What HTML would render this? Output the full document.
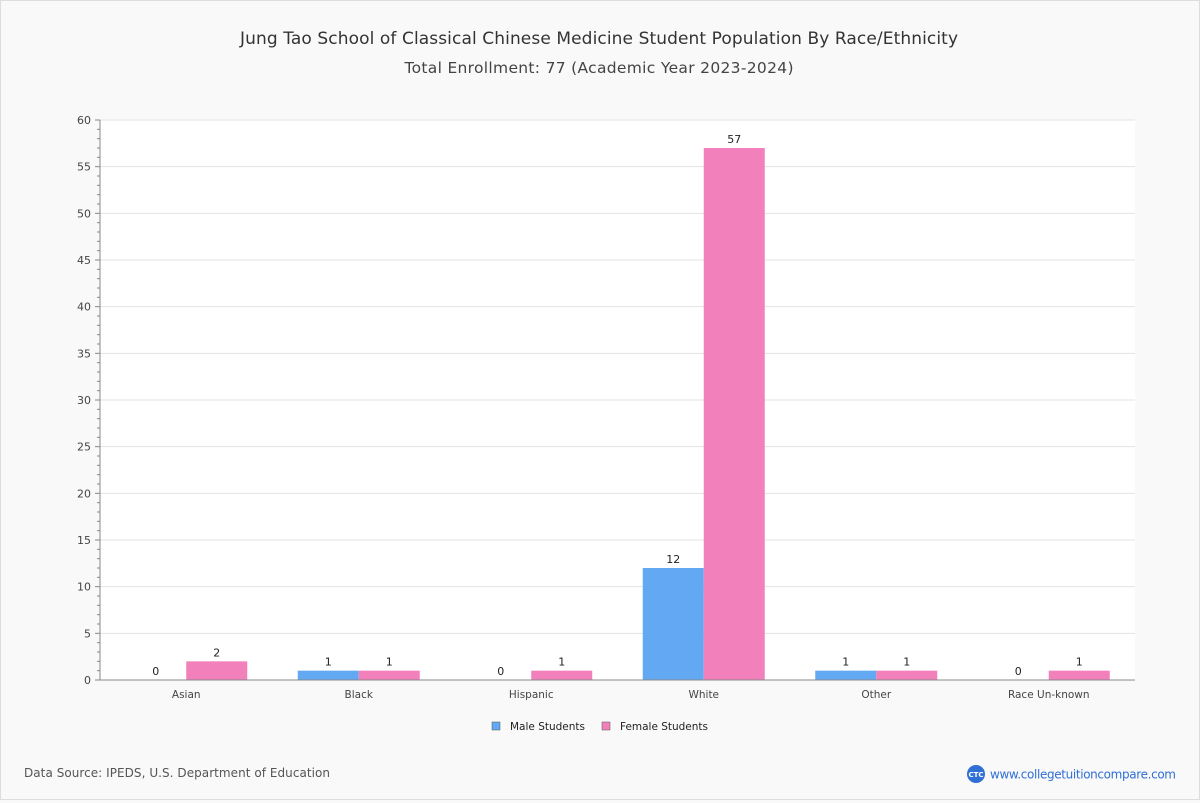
<!DOCTYPE html>
<html><head><meta charset="utf-8"><style>
body{margin:0;background:#f9f9f9;font-family:"DejaVu Sans","Liberation Sans",sans-serif;}
#wrap{position:relative;width:1198px;height:798px;border:1px solid #ddd;background:#f9f9f9;}
</style></head><body>
<div id="wrap">
<svg id="chart" width="1198" height="798" xmlns="http://www.w3.org/2000/svg">
<text x="598" y="43" text-anchor="middle" font-size="17" fill="#333" textLength="718">Jung Tao School of Classical Chinese Medicine Student Population By Race/Ethnicity</text>
<text x="598" y="72" text-anchor="middle" font-size="15.5" fill="#444" textLength="389">Total Enrollment: 77 (Academic Year 2023-2024)</text>
<rect x="99" y="119" width="1035" height="560" fill="#fff"/>
<g id="grid"></g><g id="bars"></g><g id="axes"></g>
<g>
<rect x="491" y="721" width="8" height="8" fill="#63a8f2" stroke="#555" stroke-width="0.5"/>
<text x="509" y="729" font-size="10.5" fill="#222" textLength="75">Male Students</text>
<rect x="601" y="721" width="8" height="8" fill="#f281bb" stroke="#555" stroke-width="0.5"/>
<text x="619" y="729" font-size="10.5" fill="#222" textLength="88">Female Students</text>
</g>
<text x="23" y="776" font-size="12" fill="#555" textLength="306">Data Source: IPEDS, U.S. Department of Education</text>
<g>
<circle cx="975" cy="773" r="9" fill="#2f6fd6"/>
<text x="975" y="776" text-anchor="middle" font-size="7" font-weight="bold" fill="#fff">CTC</text>
<text x="989" y="777.5" font-size="12" fill="#2f6fd6" textLength="186">www.collegetuitioncompare.com</text>
</g>
</svg></div>
<script>
const categories=["Asian","Black","Hispanic","White","Other","Race Un-known"];
const maleValues=[0,1,0,12,1,0];
const femaleValues=[2,1,1,57,1,1];
const yTicks=[0,5,10,15,20,25,30,35,40,45,50,55,60];
const NS="http://www.w3.org/2000/svg";
const X0=99,X1=1134,Y0=679,Y1=119,YMAX=60;
const y=v=>Y0-(v/YMAX)*(Y0-Y1);
const bw=(X1-X0)/categories.length;
const xc=i=>X0+bw*(i+0.5);
function mk(tag,attrs,parent,txt){const e=document.createElementNS(NS,tag);for(const k in attrs)e.setAttribute(k,attrs[k]);if(txt!==undefined)e.textContent=txt;parent.appendChild(e);return e;}
const grid=document.getElementById('grid'),bars=document.getElementById('bars'),axes=document.getElementById('axes');
yTicks.forEach(t=>{
  if(t>0){const g=mk('line',{x1:X0,x2:X1,y1:y(t),y2:y(t),stroke:'#e3e3e3'},grid);
  
  }
  const l=mk('text',{x:X0-9,y:y(t)+4,'text-anchor':'end','font-size':11,fill:'#444'},axes,t);
  
  
});
for(let v=0;v<=YMAX;v++){const big=v%5===0;mk('line',{x1:X0-(big?5:3),x2:X0,y1:y(v),y2:y(v),stroke:'#888'},axes);}
mk('line',{x1:X0,x2:X0,y1:Y1,y2:Y0,stroke:'#888'},axes);
mk('line',{x1:X0,x2:X1,y1:Y0,y2:Y0,stroke:'#888'},axes);
const barW=61;
categories.forEach((c,i)=>{
  const cx=xc(i);
  const lab=mk('text',{x:cx,y:Y0+18,'text-anchor':'middle','font-size':10.5,fill:'#444'},axes,c);
  
  
  [[maleValues[i],cx-barW,'#63a8f2','male'],[femaleValues[i],cx,'#f281bb','female']].forEach(([v,x,col,s])=>{
    const r=mk('rect',{x:x,y:y(v),width:barW,height:Y0-y(v),fill:col},bars);
    
    
    const t=mk('text',{x:x+barW/2,y:y(v)-5,'text-anchor':'middle','font-size':11,fill:'#222'},bars,v);
    
    
  });
});
</script>
</body></html>
